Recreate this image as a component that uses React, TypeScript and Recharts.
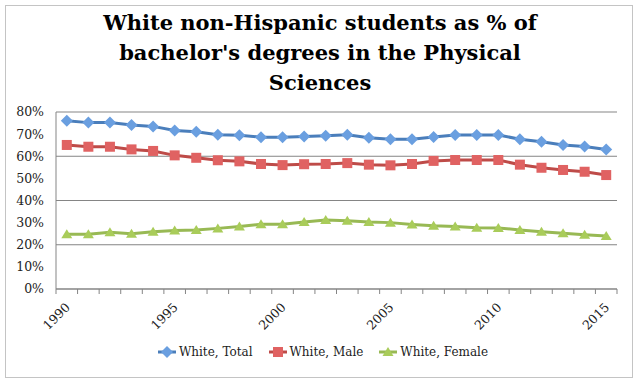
import { LineChart, Line, XAxis, YAxis, CartesianGrid, Legend } from "recharts";

// years 1990..2015
const years = [
  1990, 1991, 1992, 1993, 1994, 1995, 1996, 1997, 1998, 1999, 2000, 2001, 2002,
  2003, 2004, 2005, 2006, 2007, 2008, 2009, 2010, 2011, 2012, 2013, 2014, 2015,
];
const whiteTotal = [
  76, 75.2, 75.2, 74.1, 73.5, 71.6, 71.1, 69.7, 69.5, 68.6, 68.6, 68.9, 69.3,
  69.7, 68.4, 67.7, 67.7, 68.7, 69.6, 69.6, 69.6, 67.7, 66.6, 65.1, 64.4, 63.1,
];
const whiteMale = [
  65.1, 64.3, 64.3, 63.1, 62.4, 60.4, 59.3, 58.2, 57.7, 56.5, 56, 56.4, 56.5,
  56.9, 56.2, 55.9, 56.5, 57.9, 58.3, 58.3, 58.3, 56.2, 54.8, 53.8, 53, 51.5,
];
const whiteFemale = [
  24.8, 24.8, 25.6, 25, 25.9, 26.4, 26.7, 27.4, 28.2, 29.3, 29.3, 30.3, 31.2,
  30.9, 30.3, 30, 29.2, 28.6, 28.3, 27.7, 27.6, 26.7, 25.9, 25.2, 24.5, 24,
];
const yTicks = [0, 10, 20, 30, 40, 50, 60, 70, 80];
const labelYears = [1990, 1995, 2000, 2005, 2010, 2015];
const titleLines = [
  "White non-Hispanic students as % of",
  "bachelor's degrees in the Physical",
  "Sciences",
];

const series = [
  { key: "total", name: "White, Total", stroke: "#4A7EBB", fill: "#6A9FE0", shape: "diamond" },
  { key: "male", name: "White, Male", stroke: "#BE4B48", fill: "#E06262", shape: "square" },
  { key: "female", name: "White, Female", stroke: "#98B954", fill: "#A9CC5A", shape: "triangle" },
];

const data = years.map((year, i) => ({
  year,
  total: whiteTotal[i],
  male: whiteMale[i],
  female: whiteFemale[i],
}));

// tick marks sit between categories, labels on the points
const boundaries = [...years.map((y) => y - 0.5), years[years.length - 1] + 0.5];
const xTicks = [...boundaries, ...labelYears].sort((a, b) => a - b);

const FONT = "'DejaVu Serif', serif";
const GRID = "#858585";

const Marker = ({ cx, cy, shape, fill }: any) => {
  if (cx == null || cy == null) return null;
  if (shape === "diamond")
    return <polygon points={`${cx},${cy - 6} ${cx + 6},${cy} ${cx},${cy + 6} ${cx - 6},${cy}`} fill={fill} />;
  if (shape === "square")
    return <rect x={cx - 5} y={cy - 5} width={10} height={10} fill={fill} />;
  return <polygon points={`${cx},${cy - 5} ${cx + 5.5},${cy + 4} ${cx - 5.5},${cy + 4}`} fill={fill} />;
};

const XTick = ({ x, y, payload }: any) => {
  const v = payload.value;
  if (labelYears.includes(v)) {
    const px = x + 4;
    const py = y + 19;
    return (
      <text
        x={px}
        y={py}
        transform={`rotate(-45 ${px} ${py})`}
        textAnchor="end"
        fontFamily={FONT}
        fontSize={12.5}
        fill="#222"
      >
        {v}
      </text>
    );
  }
  return <line x1={x} x2={x} y1={y} y2={y + 5} stroke={GRID} strokeWidth={1} />;
};

const LegendContent = () => (
  <div
    style={{
      display: "flex",
      justifyContent: "center",
      alignItems: "center",
      fontFamily: FONT,
      fontSize: 12,
      color: "#222",
      gap: 16,
      paddingLeft: 6,
    }}
  >
    {series.map((s) => (
      <div key={s.key} style={{ display: "flex", alignItems: "center" }}>
        <svg width={18} height={12} style={{ marginRight: 3 }}>
          <line x1={0} x2={18} y1={6} y2={6} stroke={s.stroke} strokeWidth={3} />
          <Marker cx={9} cy={6} shape={s.shape} fill={s.fill} />
        </svg>
        <span>{s.name}</span>
      </div>
    ))}
  </div>
);

export default function App() {
  return (
    <div style={{ position: "absolute", left: 0, top: 0, width: 640, height: 381, background: "#fff" }}>
      <div
        style={{
          position: "absolute",
          left: 5,
          top: 5,
          width: 626,
          height: 371,
          border: "1px solid #c4c4c4",
        }}
      />
      <div
        style={{
          position: "absolute",
          left: 0,
          top: 8,
          width: 640,
          textAlign: "center",
          fontFamily: FONT,
          fontWeight: "bold",
          fontSize: 21,
          lineHeight: "30px",
          color: "#000",
        }}
      >
        {titleLines.map((t) => (
          <div key={t}>{t}</div>
        ))}
      </div>
      <LineChart
        width={640}
        height={381}
        data={data}
        margin={{ top: 112, right: 23, left: 0, bottom: 52 }}
        style={{ position: "absolute", left: 0, top: 0 }}
      >
        <CartesianGrid vertical={false} stroke={GRID} />
        <XAxis
          dataKey="year"
          type="number"
          domain={[boundaries[0], boundaries[boundaries.length - 1]]}
          ticks={xTicks}
          interval={0}
          height={40}
          tickLine={false}
          tickSize={0}
          tickMargin={0}
          axisLine={{ stroke: GRID }}
          tick={<XTick />}
        />
        <YAxis
          domain={[0, 80]}
          ticks={yTicks}
          width={56}
          tickLine={false}
          axisLine={{ stroke: GRID }}
          tickFormatter={(v) => `${v}%`}
          tick={{ fontFamily: FONT, fontSize: 12.5, fill: "#222" }}
          tickMargin={6}
        />
        <Legend
          layout="vertical"
          verticalAlign="middle"
          align="center"
          content={<LegendContent />}
          wrapperStyle={{ top: 345, left: 0, width: 640 }}
        />
        {series.map((s) => (
          <Line
            key={s.key}
            dataKey={s.key}
            name={s.name}
            type="linear"
            stroke={s.stroke}
            strokeWidth={3}
            isAnimationActive={false}
            dot={(p: any) => <Marker key={p.index} cx={p.cx} cy={p.cy} shape={s.shape} fill={s.fill} />}
            activeDot={false}
          />
        ))}
      </LineChart>
    </div>
  );
}
